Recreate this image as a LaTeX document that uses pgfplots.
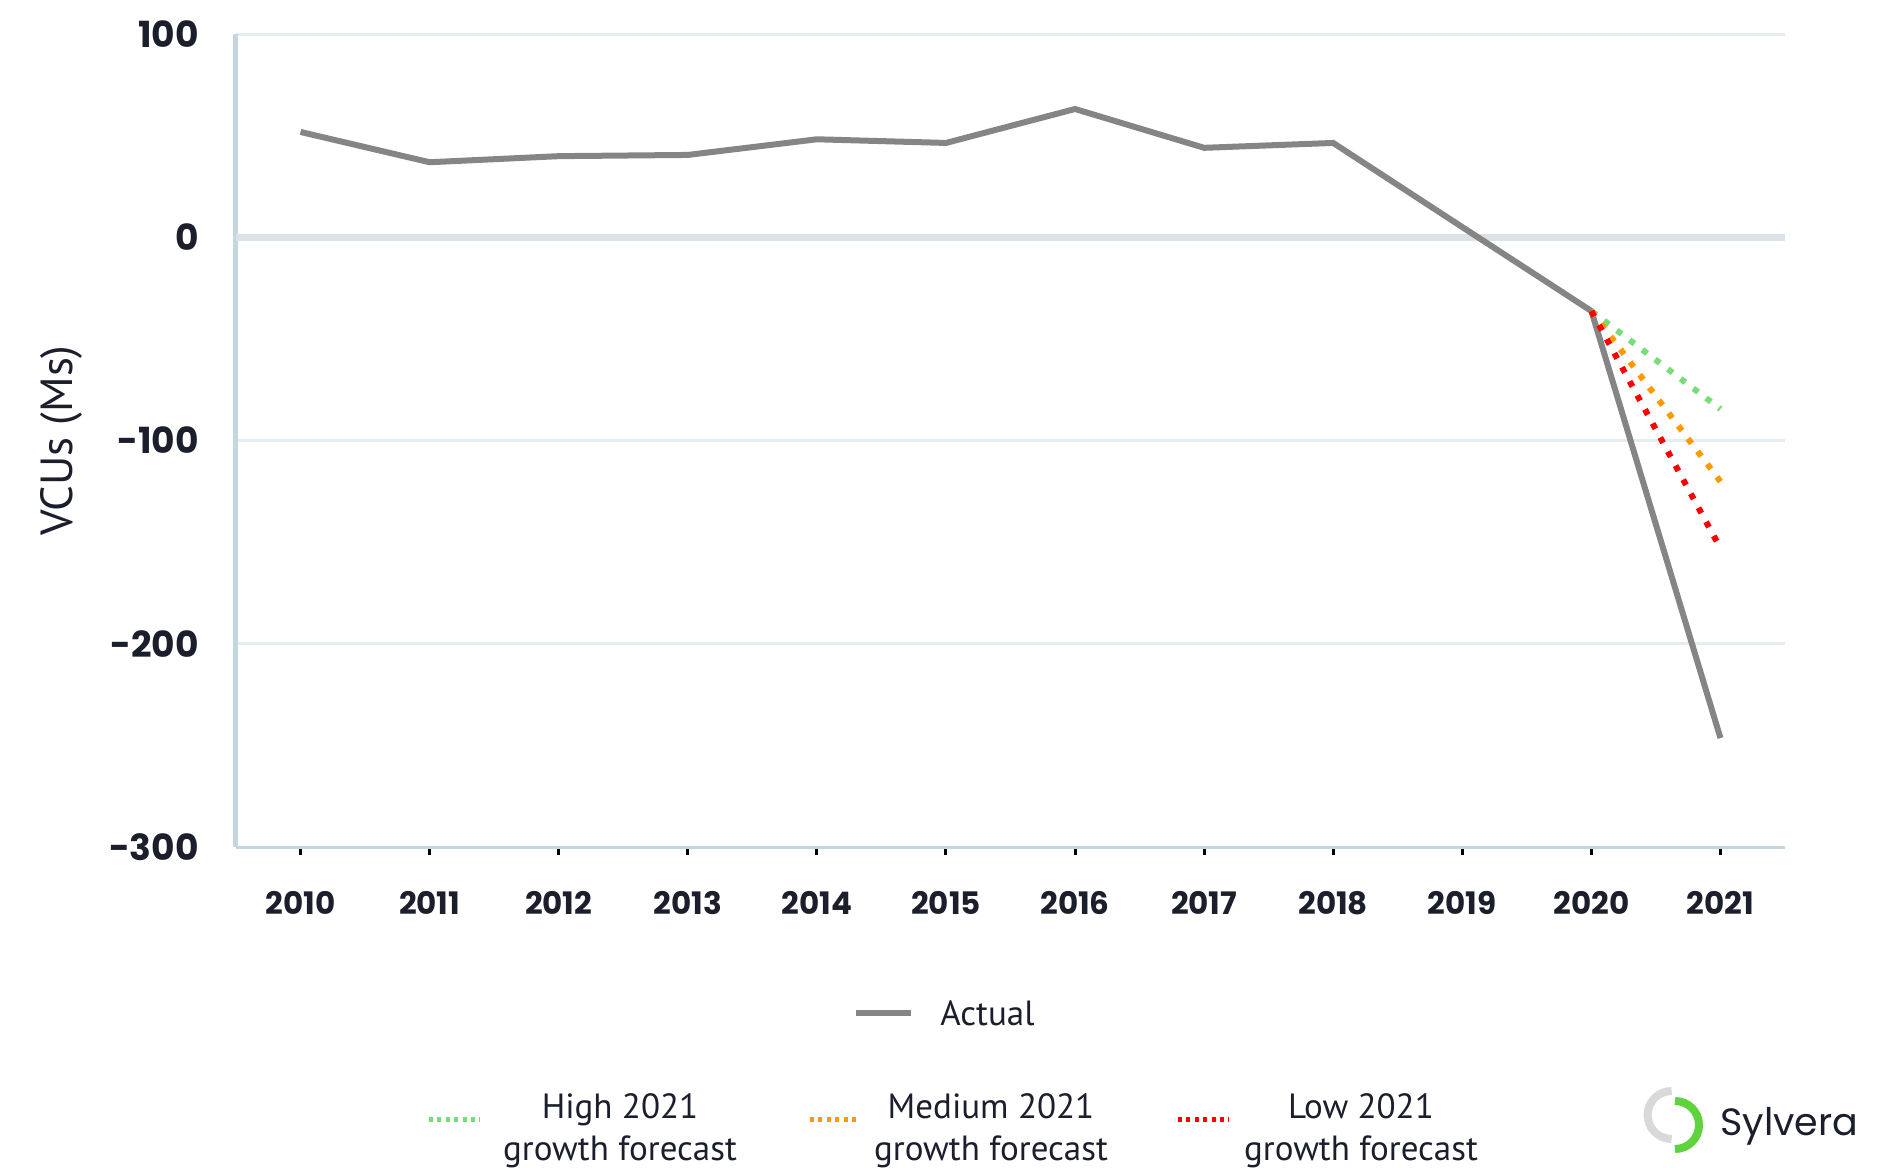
\documentclass[border=0pt]{standalone}
\usepackage{fontspec}
\usepackage{pgfplots}
\pgfplotsset{compat=1.18}
\setmainfont{PT Sans}
\newfontfamily\pop{Poppins}
\definecolor{txt}{HTML}{1B1E2B}
\definecolor{actc}{HTML}{858585}
\definecolor{greenc}{HTML}{77DD77}
\definecolor{orangec}{HTML}{FF9900}
\definecolor{redc}{HTML}{FF0000}
\definecolor{gridc}{HTML}{E6EDF1}
\definecolor{zeroc}{HTML}{DCE3E6}
\definecolor{axisc}{HTML}{C4D7E1}
\definecolor{logogray}{HTML}{D9D9D9}
\definecolor{logogreen}{HTML}{5FD33C}
\begin{document}
\begin{tikzpicture}
\useasboundingbox (-118pt,-160pt) rectangle (829.5pt,423.5pt);
\begin{axis}[
  at={(0,0)}, anchor=south west,
  scale only axis, width=774.5pt, height=406.5pt,
  xmin=2009.5, xmax=2021.5, ymin=-300, ymax=100,
  axis lines=left,
  x axis line style={draw=axisc, line width=1.5pt, -},
  y axis line style={draw=axisc, line width=2.5pt, -},
  ytick={-300,-200,-100,0,100},
  yticklabels={-300,-200,-100,0,100},
  xtick={2010,2011,2012,2013,2014,2015,2016,2017,2018,2019,2020,2021},
  xticklabels={2010,2011,2012,2013,2014,2015,2016,2017,2018,2019,2020,2021},
  ytick style={draw=none},
  tick align=outside,
  xtick style={draw=black, line width=1.5pt},
  major tick length=4pt,
  ymajorgrids, grid style={draw=gridc, line width=1.5pt},
  xticklabel style={font=\pop\bfseries\fontsize{15.5}{18}\selectfont, text=txt, anchor=center, inner sep=0pt, yshift=-24pt},
  yticklabel style={font=\pop\bfseries\fontsize{18}{20}\selectfont, text=txt, anchor=east, inner sep=0pt, xshift=-14.5pt},
  ylabel={VCUs (Ms)},
  ylabel style={at={(axis description cs:-0.1126,0.5)}, anchor=center, font=\fontsize{22.5}{26}\selectfont, text=txt},
  clip=false,
]
\addplot[draw=zeroc, line width=3.5pt, forget plot] coordinates {(2009.5,0) (2021.5,0)};
\addplot[draw=actc, line width=3pt] coordinates {
(2010,51.8) (2011,36.9) (2012,39.9) (2013,40.5) (2014,48.2) (2015,46.4)
(2016,63.1) (2017,44.0) (2018,46.4) (2019,5.0) (2020,-36.3) (2021,-246.4)};
\addplot[draw=greenc, line width=3pt, dash pattern=on 3pt off 5pt] coordinates {(2020,-36.3) (2021,-84.5)};
\addplot[draw=orangec, line width=3pt, dash pattern=on 3pt off 5pt] coordinates {(2020,-36.3) (2021,-120.2)};
\addplot[draw=redc, line width=3pt, dash pattern=on 3pt off 5pt] coordinates {(2020,-36.3) (2021,-153.0)};
\end{axis}
% legend
\draw[actc, line width=3pt] (310pt,-83pt) -- (337.5pt,-83pt);
\node[anchor=west, inner sep=0pt, font=\fontsize{17.5}{20.5}\selectfont, text=txt] at (352pt,-83pt) {Actual};
\draw[greenc, line width=2.5pt, dash pattern=on 2pt off 2.2pt] (96.5pt,-136pt) -- (122pt,-136pt);
\node[align=center, inner sep=0pt, font=\fontsize{17.5}{21}\selectfont, text=txt] at (192pt,-142pt) {High 2021\\growth forecast};
\draw[orangec, line width=2.5pt, dash pattern=on 2pt off 2.2pt] (287pt,-136pt) -- (312pt,-136pt);
\node[align=center, inner sep=0pt, font=\fontsize{17.5}{21}\selectfont, text=txt] at (377.5pt,-142pt) {Medium 2021\\growth forecast};
\draw[redc, line width=2.5pt, dash pattern=on 2pt off 2.2pt] (471pt,-136pt) -- (496.5pt,-136pt);
\node[align=center, inner sep=0pt, font=\fontsize{17.5}{21}\selectfont, text=txt] at (562.5pt,-142pt) {Low 2021\\growth forecast};
% logo
\draw[logogray, line width=4pt] (717.8pt,-122pt) arc[start angle=90, end angle=270, radius=12pt];
\draw[logogreen, line width=4pt] (719.5pt,-127pt) arc[start angle=90, end angle=-90, radius=12pt];
\node[anchor=base west, inner sep=0pt, font=\pop\fontsize{19}{22}\selectfont, text=txt] at (742pt,-144pt) {Sylvera};
\end{tikzpicture}
\end{document}
